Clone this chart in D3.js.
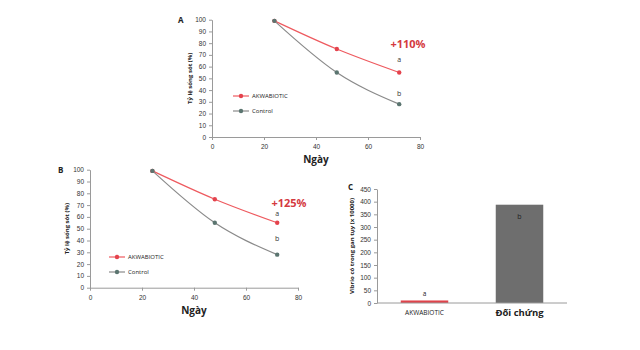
<!DOCTYPE html>
<html>
<head>
<meta charset="utf-8">
<script src="https://cdn.jsdelivr.net/npm/d3@7"></script>
<style>
  html, body { margin: 0; padding: 0; background: #fff; }
  svg { display: block; font-family: "Open Sans", "Liberation Sans", sans-serif; }
</style>
</head>
<body>
<div id="chart"></div>
<script>
// data
const DAYS = [24, 48, 72];
const AKWA_A = [99, 75, 55];
const CTRL_A = [99, 55, 28];
const AKWA_B = [99, 75, 55];
const CTRL_B = [99, 55, 28];
const SERIES_NAMES = ['AKWABIOTIC', 'Control'];
const X_TICKS = [0, 20, 40, 60, 80];
const Y_TICKS = d3.range(0, 101, 10);
const BAR_CATS = ['AKWABIOTIC', 'Đối chứng'];
const BAR_VALUES = [10, 388];
const BAR_TICKS = d3.range(0, 451, 50);

const RED = '#ee5a5f';
const RED_DOT = '#e4434d';
const GREY = '#8a8a8a';
const GREY_DOT = '#5b7570';
const AXIS = '#9a9a9a';

const svg = d3.select('#chart').append('svg')
  .attr('width', 640).attr('height', 350);

function lineChart(cfg) {
  const x = d3.scaleLinear().domain([0, 80]).range([cfg.x0, cfg.x1]);
  const y = d3.scaleLinear().domain([0, 100]).range([cfg.y0, cfg.y1]);
  const g = svg.append('g');

  g.append('g').attr('transform', `translate(0,${cfg.y0})`)
    .call(d3.axisBottom(x).tickValues(X_TICKS).tickSize(3).tickSizeOuter(0))
    .call(a => a.selectAll('line,path').attr('stroke', AXIS))
    .call(a => a.selectAll('text').attr('font-size', 6.5).attr('fill', '#333').attr('dy', '0.9em'));
  g.append('g').attr('transform', `translate(${cfg.x0},0)`)
    .call(d3.axisLeft(y).tickValues(Y_TICKS).tickSize(3).tickSizeOuter(0))
    .call(a => a.selectAll('line,path').attr('stroke', AXIS))
    .call(a => a.selectAll('text').attr('font-size', 6.5).attr('fill', '#333'));

  const line = d3.line().x((d, i) => x(DAYS[i])).y(d => y(d)).curve(d3.curveMonotoneX);
  const series = [
    { vals: cfg.akwa, stroke: RED, dot: RED_DOT },
    { vals: cfg.ctrl, stroke: GREY, dot: GREY_DOT }
  ];
  series.forEach(s => {
    g.append('path').datum(s.vals).attr('d', line)
      .attr('fill', 'none').attr('stroke', s.stroke).attr('stroke-width', 1.2);
    g.selectAll(null).data(s.vals).join('circle')
      .attr('cx', (d, i) => x(DAYS[i])).attr('cy', d => y(d)).attr('r', 2.2)
      .attr('fill', s.dot);
  });

  // panel letter
  g.append('text').attr('x', cfg.letter[0]).attr('y', cfg.letter[1])
    .attr('font-size', 8).attr('font-weight', 700).attr('fill', '#222').text(cfg.label);
  // axis titles
  g.append('text').attr('transform', `translate(${cfg.ylabX},${(cfg.y0 + cfg.y1) / 2}) rotate(-90)`)
    .attr('text-anchor', 'middle').attr('font-size', 6).attr('font-weight', 700).attr('fill', '#222')
    .text('Tỷ lệ sống sót (%)');
  g.append('text').attr('x', (cfg.x0 + cfg.x1) / 2).attr('y', cfg.y0 + 26)
    .attr('text-anchor', 'middle').attr('font-size', 10).attr('font-weight', 700).attr('fill', '#222')
    .text('Ngày');

  // annotation
  g.append('text').attr('x', cfg.pct[0]).attr('y', cfg.pct[1])
    .attr('text-anchor', 'middle').attr('font-size', 11).attr('font-weight', 700).attr('fill', '#d43a3f')
    .text(cfg.pctText);
  g.append('text').attr('x', x(72)).attr('y', cfg.aY).attr('text-anchor', 'middle')
    .attr('font-size', 7).attr('fill', '#333').text('a');
  g.append('text').attr('x', x(72)).attr('y', cfg.bY).attr('text-anchor', 'middle')
    .attr('font-size', 7).attr('fill', '#333').text('b');

  // legend
  SERIES_NAMES.forEach((name, i) => {
    const ly = cfg.leg[1] + i * 15;
    const s = series[i];
    g.append('line').attr('x1', cfg.leg[0] - 8).attr('x2', cfg.leg[0] + 8)
      .attr('y1', ly).attr('y2', ly).attr('stroke', s.stroke).attr('stroke-width', 1.2);
    g.append('circle').attr('cx', cfg.leg[0]).attr('cy', ly).attr('r', 2.2).attr('fill', s.dot);
    g.append('text').attr('x', cfg.leg[0] + 11).attr('y', ly + 2.3)
      .attr('font-size', 6).attr('fill', '#222').text(name);
  });
}

lineChart({
  label: 'A', x0: 212, x1: 420, y0: 137, y1: 19.7,
  akwa: AKWA_A, ctrl: CTRL_A, letter: [178, 23], ylabX: 192,
  pct: [408, 48], pctText: '+110%', aY: 62, bY: 96, leg: [241, 96]
});
lineChart({
  label: 'B', x0: 90, x1: 298, y0: 287.7, y1: 169.7,
  akwa: AKWA_B, ctrl: CTRL_B, letter: [58, 173], ylabX: 69,
  pct: [289, 207], pctText: '+125%', aY: 216, bY: 241, leg: [117, 257]
});

// panel C: bar chart
(function () {
  const x0 = 377, x1 = 567, y0 = 303, y1 = 189;
  const x = d3.scaleBand().domain(BAR_CATS).range([x0, x1]).paddingInner(0.5).paddingOuter(0.25);
  const y = d3.scaleLinear().domain([0, 450]).range([y0, y1]);
  const g = svg.append('g');

  g.append('g').attr('transform', `translate(${x0},0)`)
    .call(d3.axisLeft(y).tickValues(BAR_TICKS).tickSize(3).tickSizeOuter(0))
    .call(a => a.selectAll('line,path').attr('stroke', AXIS))
    .call(a => a.selectAll('text').attr('font-size', 6.5).attr('fill', '#333'));

  g.selectAll('rect').data(BAR_VALUES).join('rect')
    .attr('x', (d, i) => x(BAR_CATS[i])).attr('width', x.bandwidth())
    .attr('y', d => y(d)).attr('height', d => y0 - y(d))
    .attr('fill', (d, i) => i === 0 ? '#e0434b' : '#6e6e6e');

  g.append('line').attr('x1', x0).attr('x2', x1).attr('y1', y0).attr('y2', y0).attr('stroke', AXIS);

  // category labels
  g.append('text').attr('x', x(BAR_CATS[0]) + x.bandwidth() / 2).attr('y', y0 + 12)
    .attr('text-anchor', 'middle').attr('font-size', 6.5).attr('fill', '#222').text(BAR_CATS[0]);
  g.append('text').attr('x', x(BAR_CATS[1]) + x.bandwidth() / 2).attr('y', y0 + 13)
    .attr('text-anchor', 'middle').attr('font-size', 9.5).attr('font-weight', 700).attr('fill', '#222').text(BAR_CATS[1]);

  // significance letters
  g.append('text').attr('x', x(BAR_CATS[0]) + x.bandwidth() / 2).attr('y', y(BAR_VALUES[0]) - 4)
    .attr('text-anchor', 'middle').attr('font-size', 6.5).attr('fill', '#222').text('a');
  g.append('text').attr('x', x(BAR_CATS[1]) + x.bandwidth() / 2).attr('y', y(BAR_VALUES[1]) + 14)
    .attr('text-anchor', 'middle').attr('font-size', 7).attr('fill', '#222').text('b');

  g.append('text').attr('x', 348).attr('y', 190)
    .attr('font-size', 8).attr('font-weight', 700).attr('fill', '#222').text('C');
  g.append('text').attr('transform', `translate(354,${(y0 + y1) / 2}) rotate(-90)`)
    .attr('text-anchor', 'middle').attr('font-size', 6).attr('font-weight', 700).attr('fill', '#222')
    .text('Vibrio có trong gan tụy (x 10000)');
})();
</script>
</body>
</html>
